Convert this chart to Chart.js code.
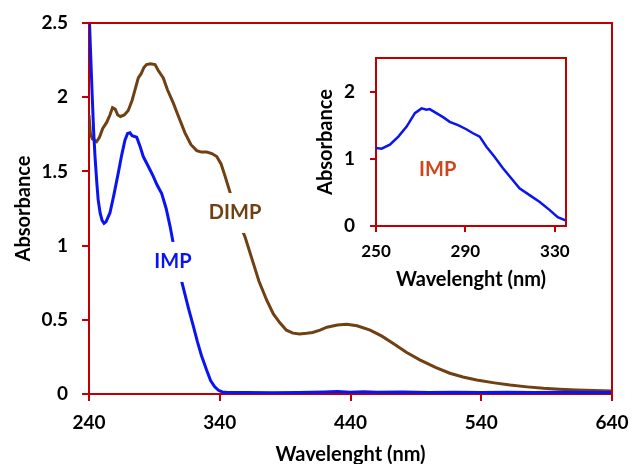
<!DOCTYPE html>
<html lang="en">
<head>
<meta charset="UTF-8" />
<title>IMP / DIMP absorbance</title>
<script src="https://cdn.jsdelivr.net/npm/chart.js"></script>
<style>
    body { margin: 0; background: #fff; }
    .wrap { position: relative; width: 632px; height: 464px; }
    #mainChart { position: absolute; left: 0; top: 0; }
    #insetChart { position: absolute; left: 300px; top: 40px; }
</style>
</head>
<body>
<div class="wrap">
    <canvas id="mainChart" width="632" height="464"></canvas>
    <canvas id="insetChart" width="280" height="250"></canvas>
</div>
<script>
// main spectrum, IMP
const impWave = [240, 241, 242.5, 243.5, 244.6, 246, 247, 248.5, 250, 251.5, 253, 256, 259, 262.4, 265, 267.5,
    269.5, 271.4, 273, 276.5, 279, 281.5, 285, 289, 292, 295.6, 299, 302, 306, 310, 312, 316, 320, 323, 326,
    330, 333, 336, 339, 342, 346, 360, 380, 400, 420, 430, 440, 450, 460, 480, 500, 520, 540, 560, 580, 600, 620, 640];
const impAbs = [2.6, 2.35, 2.0, 1.78, 1.6, 1.42, 1.31, 1.22, 1.17, 1.15, 1.16, 1.22, 1.34, 1.49, 1.61, 1.71,
    1.755, 1.76, 1.74, 1.73, 1.67, 1.6, 1.54, 1.47, 1.41, 1.35, 1.25, 1.13, 0.94, 0.79, 0.72, 0.58, 0.45, 0.35, 0.26,
    0.16, 0.09, 0.05, 0.025, 0.014, 0.01, 0.01, 0.008, 0.01, 0.013, 0.016, 0.012, 0.015, 0.011, 0.014, 0.01, 0.012, 0.01, 0.012, 0.01, 0.011, 0.01, 0.01];

// main spectrum, DIMP
const dimpWave = [240, 241, 242.5, 245.8, 248, 250.5, 253.5, 256, 258, 260, 262, 264, 267, 270, 273, 275.5,
    277.7, 280, 282, 284, 287, 290.5, 293, 296.8, 300, 304.5, 308, 313.4, 318, 322.4, 326, 330, 334, 337.7,
    341, 344, 347.8, 352, 356, 359.3, 365.7, 370, 376, 381, 386, 391, 396, 401, 406.5, 411, 416.7, 422, 430,
    437, 445, 455, 464, 472.7, 483, 493, 505, 516, 526, 536.5, 550, 562, 575, 587.5, 600, 613, 626, 640];
const dimpAbs = [1.88, 1.76, 1.72, 1.7, 1.73, 1.79, 1.83, 1.88, 1.93, 1.92, 1.88, 1.87, 1.88, 1.91, 1.98, 2.06,
    2.13, 2.16, 2.2, 2.22, 2.225, 2.22, 2.18, 2.13, 2.05, 1.96, 1.88, 1.76, 1.68, 1.64, 1.63, 1.63, 1.62, 1.6,
    1.55, 1.47, 1.36, 1.24, 1.13, 1.06, 0.88, 0.76, 0.63, 0.54, 0.48, 0.43, 0.41, 0.405, 0.41, 0.415, 0.43, 0.45, 0.465,
    0.47, 0.46, 0.43, 0.39, 0.34, 0.28, 0.23, 0.18, 0.14, 0.115, 0.094, 0.075, 0.06, 0.048, 0.038, 0.032, 0.027, 0.023, 0.02];

// inset, IMP zoomed
const insetWave = [250, 252.5, 256.2, 260, 263.7, 267.4, 270.4, 272.6, 274, 277, 280, 283, 286.7, 290.4, 293.4,
    296.4, 299.4, 303, 306.8, 310.5, 314.2, 318.7, 323.1, 327.6, 331.3, 335];
const insetAbs = [1.16, 1.15, 1.21, 1.33, 1.48, 1.68, 1.75, 1.73, 1.74, 1.68, 1.62, 1.55, 1.5, 1.44, 1.38,
    1.33, 1.18, 1.03, 0.86, 0.71, 0.56, 0.46, 0.36, 0.24, 0.13, 0.08];

const mainXTicks = [240, 340, 440, 540, 640];
const mainYTicks = [0, 0.5, 1, 1.5, 2, 2.5];
const insetXTicks = [250, 290, 330];
const insetYTicks = [0, 1, 2];

const RED = '#c00000';
const BLUE = '#0a14f0';
const BROWN = '#704012';
const ORANGE = '#d0461c';

Chart.defaults.font.family = 'Lato, "Open Sans", sans-serif';
Chart.defaults.font.weight = 'bold';
Chart.defaults.color = '#000';

const pts = (xs, ys) => xs.map((x, i) => ({ x, y: ys[i] }));

// red box round the plot area + in-plot labels on white boxes
const framePlugin = {
    id: 'frame',
    afterDatasetsDraw(chart, args, opts) {
        const { ctx, chartArea: a, scales } = chart;
        ctx.save();
        ctx.strokeStyle = RED;
        ctx.lineWidth = 2;
        ctx.beginPath();
        ctx.moveTo(a.left, a.top);
        ctx.lineTo(a.right, a.top);
        ctx.lineTo(a.right, a.bottom);
        ctx.stroke();
        (opts.labels || []).forEach(l => {
            const x = scales.x.getPixelForValue(l.x);
            const y = scales.y.getPixelForValue(l.y);
            ctx.font = 'bold 20px Lato';
            const w = ctx.measureText(l.text).width;
            if (l.box) {
                ctx.fillStyle = '#fff';
                ctx.fillRect(x - w / 2 - 6, y - 20, w + 12, 40);
            }
            ctx.fillStyle = l.color;
            ctx.textAlign = 'center';
            ctx.textBaseline = 'middle';
            ctx.fillText(l.text, x, y);
        });
        ctx.restore();
    }
};

function axis(opts) {
    return {
        type: 'linear',
        min: opts.min,
        max: opts.max,
        afterBuildTicks: s => { s.ticks = opts.ticks.map(v => ({ value: v })); },
        afterFit: s => {
            if (opts.width) s.width = opts.width;
            if (opts.height) s.height = opts.height;
            // keep the plot area where the layout padding puts it
            s.paddingLeft = s.paddingRight = s.paddingTop = s.paddingBottom = 0;
        },
        border: { color: RED, width: 2 },
        grid: { drawOnChartArea: false, color: RED, lineWidth: 2, tickLength: opts.tickLength },
        ticks: { font: { size: opts.tickSize }, padding: opts.pad, maxRotation: 0, callback: v => String(v) },
        title: { display: true, text: opts.title, font: { size: 20 }, padding: opts.titlePad }
    };
}

new Chart(document.getElementById('mainChart'), {
    type: 'line',
    data: {
        datasets: [
            { label: 'IMP', data: pts(impWave, impAbs), borderColor: BLUE, borderWidth: 3, pointRadius: 0, tension: 0 },
            { label: 'DIMP', data: pts(dimpWave, dimpAbs), borderColor: BROWN, borderWidth: 3, pointRadius: 0, tension: 0 }
        ]
    },
    options: {
        responsive: false,
        animation: false,
        layout: { padding: { top: 23, right: 20, left: 0, bottom: 0 } },
        plugins: {
            legend: { display: false },
            tooltip: { enabled: false },
            frame: {
                labels: [
                    { text: 'DIMP', x: 351.7, y: 1.22, color: BROWN, box: true },
                    { text: 'IMP', x: 304.2, y: 0.89, color: BLUE, box: true }
                ]
            }
        },
        scales: {
            x: axis({ min: 240, max: 640, ticks: mainXTicks, height: 70, tickLength: 7, tickSize: 19, pad: 10,
                title: 'Wavelenght (nm)', titlePad: { top: 0, bottom: -3 } }),
            y: axis({ min: 0, max: 2.5, ticks: mainYTicks, width: 89, tickLength: 7, tickSize: 19, pad: 14,
                title: 'Absorbance', titlePad: { top: 12, bottom: 0 } })
        }
    },
    plugins: [framePlugin]
});

new Chart(document.getElementById('insetChart'), {
    type: 'line',
    data: {
        datasets: [
            { label: 'IMP', data: pts(insetWave, insetAbs), borderColor: BLUE, borderWidth: 2.5, pointRadius: 0, tension: 0 }
        ]
    },
    options: {
        responsive: false,
        animation: false,
        layout: { padding: { top: 18, right: 14, left: 0, bottom: 0 } },
        plugins: {
            legend: { display: false },
            tooltip: { enabled: false },
            frame: {
                labels: [{ text: 'IMP', x: 277.6, y: 0.84, color: ORANGE, box: false }]
            }
        },
        scales: {
            x: axis({ min: 250, max: 335, ticks: insetXTicks, height: 64, tickLength: 6, tickSize: 17, pad: 9,
                title: 'Wavelenght (nm)', titlePad: { top: 0, bottom: -2 } }),
            y: axis({ min: 0, max: 2.5, ticks: insetYTicks, width: 76, tickLength: 6, tickSize: 19, pad: 15,
                title: 'Absorbance', titlePad: { top: 14, bottom: 0 } })
        }
    },
    plugins: [framePlugin]
});
</script>
</body>
</html>
